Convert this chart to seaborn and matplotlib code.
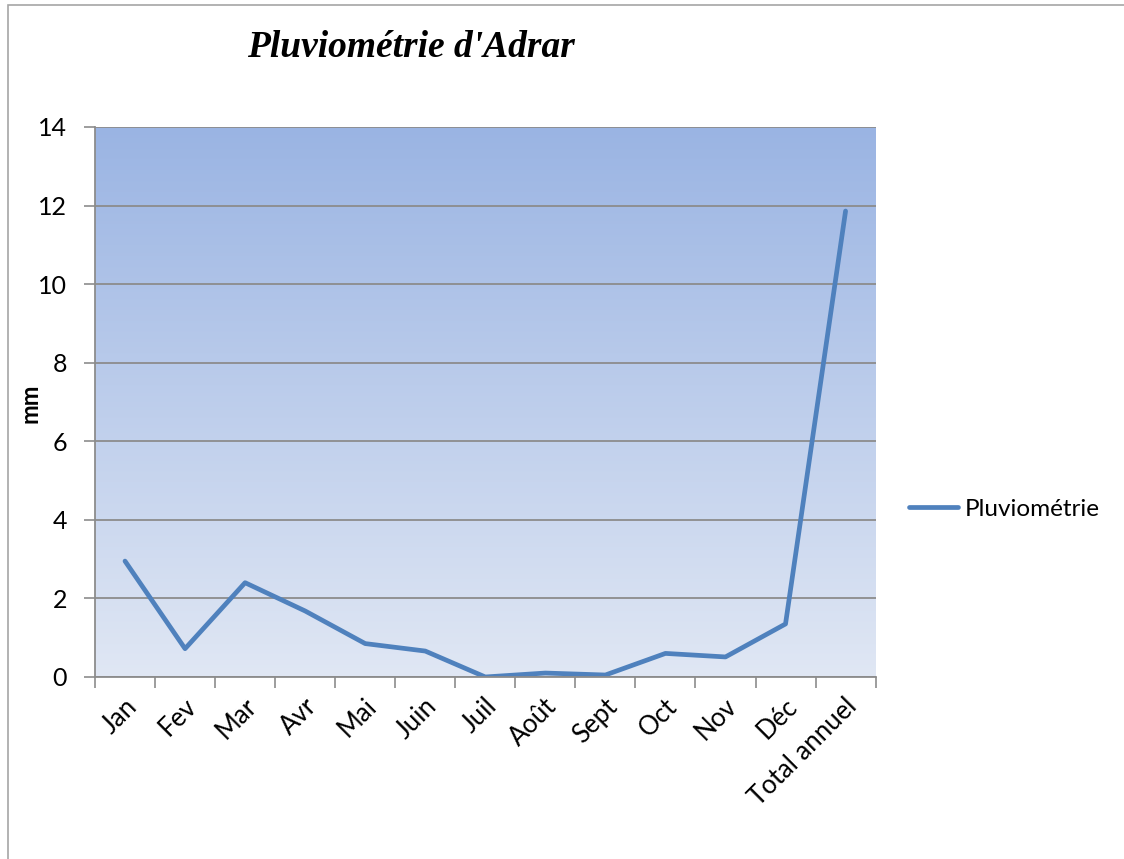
import numpy as np
import matplotlib
matplotlib.use("Agg")
import matplotlib.pyplot as plt
import seaborn as sns
import pandas as pd
from matplotlib.patches import Rectangle
from matplotlib.colors import LinearSegmentedColormap
from matplotlib.ticker import FixedLocator
from matplotlib.transforms import ScaledTranslation

categories = ["Jan", "Fev", "Mar", "Avr", "Mai", "Juin", "Juil", "Août", "Sept",
              "Oct", "Nov", "Déc", "Total annuel"]
values = [2.95, 0.72, 2.4, 1.68, 0.85, 0.66, 0.0, 0.1, 0.05, 0.6, 0.51, 1.35, 11.86]
series_name = "Pluviométrie"
title = "Pluviométrie d'Adrar"
ylabel = "mm"
yticks = [0, 2, 4, 6, 8, 10, 12, 14]

sns.set_theme(style="white")
plt.rcParams['font.family'] = ['Lato', 'DejaVu Sans']
plt.rcParams['text.color'] = 'black'
plt.rcParams['xtick.color'] = 'black'
plt.rcParams['ytick.color'] = 'black'
plt.rcParams['axes.labelcolor'] = 'black'

fig = plt.figure(figsize=(11.24, 8.59), dpi=100)
fig.patch.set_facecolor("white")
fig.add_artist(Rectangle((0.007, -0.01), 1.2, 1.004, transform=fig.transFigure,
                         fill=False, edgecolor="#A6A6A6", linewidth=1.2))

ax = fig.add_axes([0.0845, 0.2119, 0.6945, 0.6403])

df = pd.DataFrame({"cat": categories, "val": values})
sns.lineplot(data=df, x="cat", y="val", sort=False, color="#4F81BD",
             linewidth=3.4, label=series_name, ax=ax, zorder=5)

ax.set_xlim(-0.5, 12.5)
ax.set_ylim(0, 14)

# gradient background
cmap = LinearSegmentedColormap.from_list("g", ["#E0E7F4", "#9AB4E3"])
grad = np.linspace(0, 1, 256).reshape(-1, 1)
ax.imshow(grad, extent=[-0.5, 12.5, 0, 14], origin="lower", aspect="auto",
          cmap=cmap, zorder=0)

ax.set_yticks(yticks)
ax.yaxis.grid(True, color="#8C8C8C", linewidth=1.3, zorder=1)
for gl in ax.get_ygridlines():
    gl.set_zorder(1)

ax.set_xticks(range(len(categories)))
ax.set_xticklabels(categories, rotation=45, ha="right", rotation_mode="anchor",
                   fontsize=18.5)
ax.xaxis.set_minor_locator(FixedLocator(np.arange(-0.5, 13, 1)))
ax.tick_params(axis="x", which="major", length=0, pad=12)
ax.tick_params(axis="x", which="minor", length=8, color="#8C8C8C", width=1.2,
               bottom=True)
ax.tick_params(axis="y", length=8, color="#8C8C8C", width=1.2, left=True,
               labelsize=18, pad=12)
off = ScaledTranslation(-1 / 100, 0, fig.dpi_scale_trans)
for lab in ax.get_xticklabels():
    lab.set_transform(lab.get_transform() + off)

ax.set_xlabel("")
ax.set_ylabel(ylabel, fontsize=17, fontweight="bold")
ax.yaxis.set_label_coords(-0.068, 0.498)

for s in ["top", "right"]:
    ax.spines[s].set_visible(False)
for s in ["left", "bottom"]:
    ax.spines[s].set_color("#8C8C8C")
    ax.spines[s].set_linewidth(1.3)
    ax.spines[s].set_zorder(6)

leg = ax.legend(loc="center left", bbox_to_anchor=(1.015, 0.305), frameon=False,
                fontsize=17.5, handlelength=2.0, handletextpad=0.3)

fig.text(0.366, 0.945, title, fontsize=27, fontweight="bold", style="italic",
         family="Liberation Serif", ha="center", va="center")

fig.savefig("out.png", dpi=100, facecolor="white")
